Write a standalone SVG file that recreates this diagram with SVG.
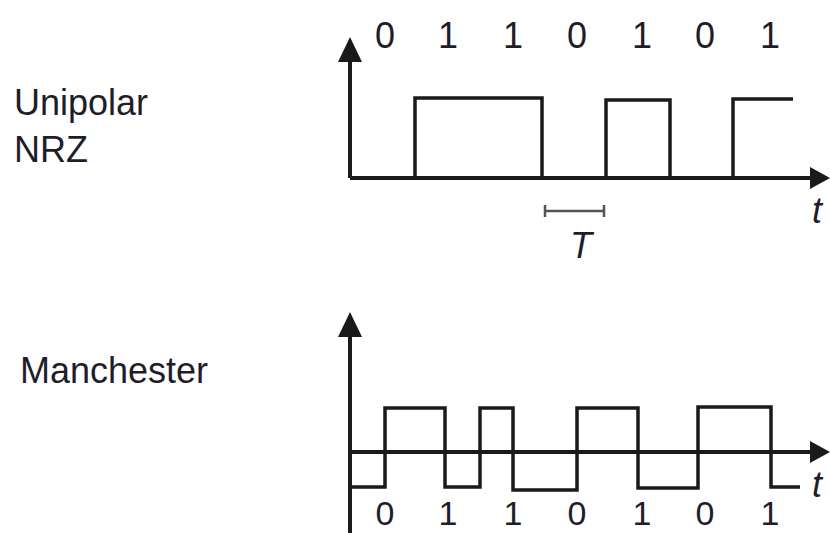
<svg xmlns="http://www.w3.org/2000/svg" width="830" height="533" viewBox="0 0 830 533">
<defs>
<style>
.lbl{font-family:"Liberation Sans",Arial,sans-serif;font-size:36px;fill:#1e1e2a}
.dig{font-family:"Liberation Sans",Arial,sans-serif;font-size:36px;fill:#1e1e2a;text-anchor:middle}
.dig2{font-family:"Liberation Sans",Arial,sans-serif;font-size:34px;fill:#1e1e2a;text-anchor:middle}
.it{font-family:"Liberation Sans",Arial,sans-serif;font-size:36px;font-style:italic;fill:#1e1e2a}
.axis{stroke:#1a1a1a;stroke-width:4;fill:none}
.wave{stroke:#1a1a1a;stroke-width:3.5;fill:none;stroke-linejoin:miter}
.ah{fill:#1a1a1a}
.tb{stroke:#555;stroke-width:2.5;fill:none}
</style>
</defs>
<g id="label-unipolar">
<text class="lbl" x="14" y="115">Unipolar</text>
<text class="lbl" x="14" y="162">NRZ</text>
</g>
<g id="label-manchester">
<text class="lbl" x="20" y="383">Manchester</text>
</g>
<g id="nrz-plot">
<line class="axis" x1="350" y1="55" x2="350" y2="178"/>
<line class="axis" x1="350" y1="178" x2="812" y2="178"/>
<polygon class="ah" points="350,37 338,62 362,62"/>
<polygon class="ah" points="830,178 810,167 810,189"/>
<polyline class="wave" points="350,178 415,178 415,98 542,98 542,178 606,178 606,100 670,100 670,178 733,178 733,99 793,99"/>
<path class="tb" d="M545,211 H604 M545,205 V217 M604,205 V217"/>
<text class="it" x="570" y="258">T</text>
<text class="it" x="812" y="223">t</text>
<text class="dig" x="385" y="48">0</text>
<text class="dig" x="448" y="48">1</text>
<text class="dig" x="513" y="48">1</text>
<text class="dig" x="577" y="48">0</text>
<text class="dig" x="642" y="48">1</text>
<text class="dig" x="705" y="48">0</text>
<text class="dig" x="770" y="48">1</text>
</g>
<g id="manchester-plot">
<line class="axis" x1="350" y1="330" x2="350" y2="533"/>
<line class="axis" x1="350" y1="452" x2="812" y2="452"/>
<polygon class="ah" points="350,312 338,337 362,337"/>
<polygon class="ah" points="830,452 810,441 810,463"/>
<polyline class="wave" points="352,487 385,487 385,408 445,408 445,487 480,487 480,408 513,408 513,490 577,490 577,408 638,408 638,488 698,488 698,407 771,407 771,487 800,487"/>
<text class="it" x="812" y="497">t</text>
<text class="dig2" x="385" y="525">0</text>
<text class="dig2" x="448" y="525">1</text>
<text class="dig2" x="513" y="525">1</text>
<text class="dig2" x="577" y="525">0</text>
<text class="dig2" x="642" y="525">1</text>
<text class="dig2" x="705" y="525">0</text>
<text class="dig2" x="770" y="525">1</text>
</g>
</svg>
